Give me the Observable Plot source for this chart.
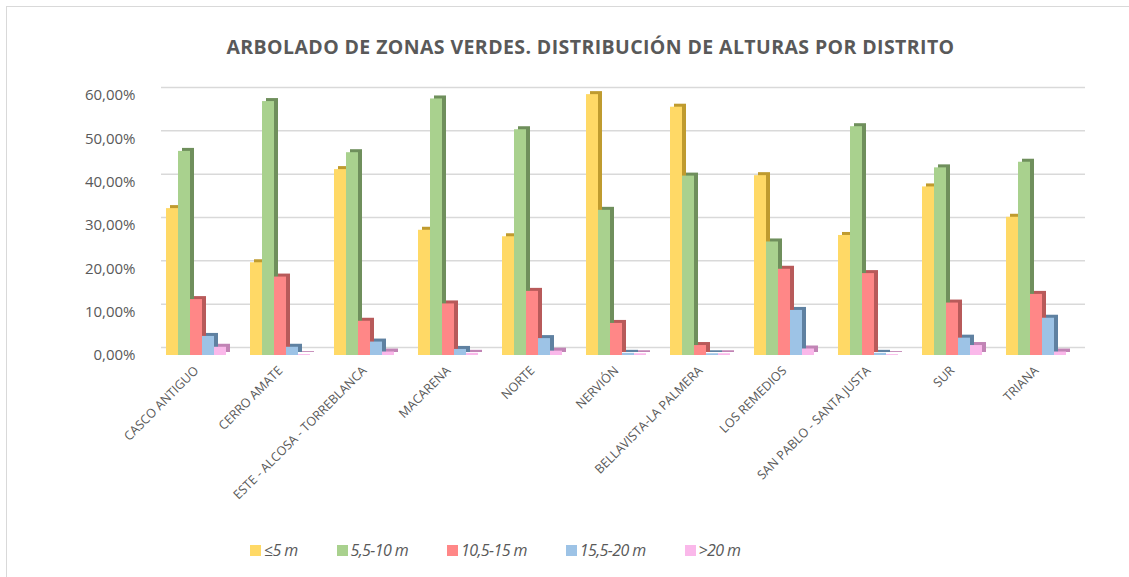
<!DOCTYPE html>
<html>
<head>
<meta charset="utf-8">
<script src="https://cdn.jsdelivr.net/npm/d3@7"></script>
<script src="https://cdn.jsdelivr.net/npm/@observablehq/plot@0.6"></script>
<style>
  html, body { margin: 0; padding: 0; background: #fff; overflow: hidden; }
  #wrap { position: relative; width: 1129px; height: 577px; overflow: hidden; font-family: "Open Sans", sans-serif; }
  #frame { position: absolute; left: 6px; top: 6px; width: 1300px; height: 700px; border: 1px solid #d9d9d9; box-sizing: border-box; }
  #title { position: absolute; left: 26px; width: 1129px; top: 33px; text-align: center; font-size: 19.5px; font-weight: 700; color: #595959; letter-spacing: 0.4px; }
  #chart { position: absolute; left: 0; top: 0; }
  #legend { position: absolute; left: 250px; top: 539px; display: flex; align-items: center; gap: 39px; font-size: 16px; font-style: italic; color: #595959; letter-spacing: -0.6px; }
  .item { display: flex; align-items: center; }
  .sw { width: 11px; height: 11px; margin-right: 3px; }
</style>
</head>
<body>
<div id="wrap">
  <div id="frame"></div>
  <div id="chart"></div>
  <div id="title">ARBOLADO DE ZONAS VERDES. DISTRIBUCIÓN DE ALTURAS POR DISTRITO</div>
  <div id="legend"></div>
</div>
<script>
const districts = ["CASCO ANTIGUO", "CERRO AMATE", "ESTE - ALCOSA - TORREBLANCA", "MACARENA", "NORTE", "NERVIÓN", "BELLAVISTA-LA PALMERA", "LOS REMEDIOS", "SAN PABLO - SANTA JUSTA", "SUR", "TRIANA"];
const series = ["≤5 m", "5,5-10 m", "10,5-15 m", "15,5-20 m", ">20 m"];
const le5    = [33.9, 21.4, 42.9, 28.9, 27.4, 60.2, 57.3, 41.5, 27.7, 38.9, 31.9];
const r5_10  = [47.1, 58.6, 46.8, 59.2, 52.1, 33.5, 41.4, 26.2, 52.8, 43.3, 44.6];
const r10_15 = [12.9, 18.1, 7.9, 11.9, 14.8, 7.4, 2.3, 19.9, 18.9, 12.1, 14.1];
const r15_20 = [4.4, 1.9, 3.1, 1.4, 3.9, 0.5, 0.4, 10.4, 0.5, 4.0, 8.6];
const gt20   = [1.9, 0.2, 0.8, 0.5, 1.0, 0.4, 0.4, 1.5, 0.2, 2.3, 0.8];
const yTicks = [0, 10, 20, 30, 40, 50, 60];

const values = [le5, r5_10, r10_15, r15_20, gt20];
const colors = ["#ffd966", "#a9d18e", "#ff8787", "#9dc3e6", "#fab8ea"];
const darks  = ["#bf9b2f", "#6f8f5c", "#b85a5a", "#5f81a1", "#c184b5"];
const darkOf = Object.fromEntries(series.map((s, i) => [s, darks[i]]));

const data = districts.flatMap((d, i) => series.map((s, j) => ({district: d, serie: s, value: values[j][i]})));

const fmt = v => v.toFixed(2).replace(".", ",") + "%";

const chart = Plot.plot({
  width: 1129,
  height: 577,
  marginTop: 95,
  marginBottom: 222,
  marginLeft: 152,
  marginRight: 50,
  style: {fontFamily: "'Open Sans', sans-serif", color: "#595959", background: "transparent"},
  fx: {domain: districts, padding: 0, label: null, axis: null},
  x: {domain: series, paddingInner: 0, paddingOuter: 0.74, axis: null},
  y: {domain: [0, 60], ticks: yTicks, tickFormat: fmt, label: null, axis: null},
  color: {domain: series, range: colors},
  marks: [
    Plot.ruleY(yTicks, {dy: -8, dx: 7, stroke: "#d9d9d9", strokeWidth: 1.5}),
    Plot.barY(data, {fx: "district", x: "serie", y: "value", fill: d => darkOf[d.serie], dx: 4, dy: -3}),
    Plot.barY(data, {fx: "district", x: "serie", y: "value", fill: "serie"}),
    Plot.axisY({ticks: yTicks, tickFormat: fmt, tickSize: 0, tickPadding: 19, fontSize: 15, label: null}),
    Plot.axisFx({anchor: "bottom", tickRotate: -45, tickSize: 0, tickPadding: 13, fontSize: 12.5, label: null})
  ]
});
document.getElementById("chart").appendChild(chart);

const legend = document.getElementById("legend");
series.forEach((s, i) => {
  const it = document.createElement("div");
  it.className = "item";
  const sw = document.createElement("div");
  sw.className = "sw";
  sw.style.background = colors[i];
  const t = document.createElement("span");
  t.textContent = s;
  it.appendChild(sw);
  it.appendChild(t);
  legend.appendChild(it);
});
</script>
</body>
</html>
